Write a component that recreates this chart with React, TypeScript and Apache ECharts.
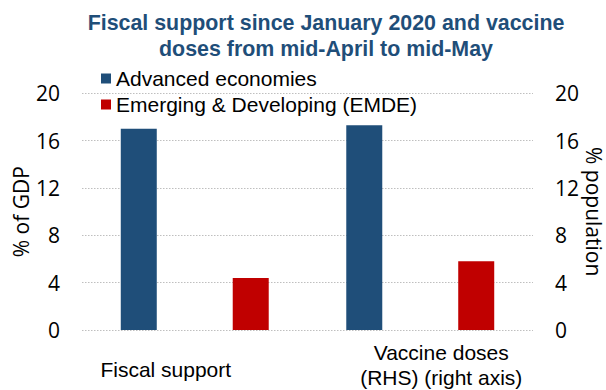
import React, { useEffect, useRef } from "react";
import * as echarts from "echarts";

const categories = ["Fiscal support", "Vaccine doses\n(RHS) (right axis)"];
const advancedValues = [17.0, 17.3];
const emdeValues = [4.4, 5.8];
const seriesNames = ["Advanced economies", "Emerging & Developing (EMDE)"];
const titleText = "Fiscal support since January 2020 and vaccine\ndoses from mid-April to mid-May";
const leftAxisName = "% of GDP";
const rightAxisName = "% population";

export default function App() {
  const ref = useRef<HTMLDivElement>(null);
  useEffect(() => {
    if (!ref.current) return;
    const chart = echarts.init(ref.current, undefined, { renderer: "svg" });
    const tickFont = { fontFamily: "Open Sans", fontSize: 21, color: "#000" };
    chart.setOption({
      animation: false,
      backgroundColor: "#fff",
      title: {
        text: titleText,
        left: 326,
        top: 10,
        padding: 0,
        textAlign: "center",
        textStyle: {
          fontFamily: "Liberation Sans",
          fontWeight: "bold",
          fontSize: 21.4,
          lineHeight: 26,
          color: "#1F4E79",
        },
      },
      legend: {
        orient: "vertical",
        left: 101,
        top: 68,
        padding: 0,
        itemWidth: 10,
        itemHeight: 10,
        itemGap: 5,
        icon: "rect",
        textStyle: { fontFamily: "Liberation Sans", fontSize: 21, lineHeight: 21, color: "#000" },
        data: seriesNames,
      },
      grid: { left: 82, right: 73, top: 93.3, bottom: 60, outerBoundsMode: "none", containLabel: false },
      xAxis: {
        type: "category",
        data: [
          { value: categories[0], textStyle: { padding: [17, 58, 0, 0] } },
          { value: categories[1], textStyle: { padding: [0, 0, 0, 42] } },
        ],
        axisLine: { show: false },
        axisTick: { show: false },
        axisLabel: {
          margin: 10,
          fontFamily: "Liberation Sans",
          fontSize: 21,
          lineHeight: 25,
          color: "#000",
          interval: 0,
        },
      },
      yAxis: [
        {
          type: "value",
          min: 0,
          max: 20,
          interval: 4,
          name: leftAxisName,
          nameLocation: "middle",
          nameRotate: 90,
          nameGap: 51,
          nameMoveOverlap: false,
          nameTextStyle: { ...tickFont, lineHeight: 21 },
          axisLabel: { ...tickFont, margin: 22 },
          axisLine: { show: false },
          axisTick: { show: false },
          splitLine: { lineStyle: { color: "#BFBFBF", width: 1.2, type: [1.5, 1.5] } },
        },
        {
          type: "value",
          min: 0,
          max: 20,
          interval: 4,
          position: "right",
          name: rightAxisName,
          nameLocation: "middle",
          nameRotate: -90,
          nameGap: 50,
          nameMoveOverlap: false,
          nameTextStyle: { ...tickFont, lineHeight: 21 },
          axisLabel: { ...tickFont, margin: 22 },
          axisLine: { show: false },
          axisTick: { show: false },
          splitLine: { show: false },
        },
      ],
      series: [
        {
          name: seriesNames[0],
          type: "bar",
          data: advancedValues,
          barWidth: 36,
          barGap: "211%",
          itemStyle: { color: "#1F4E79" },
        },
        {
          name: seriesNames[1],
          type: "bar",
          data: emdeValues,
          barWidth: 36,
          barGap: "211%",
          itemStyle: { color: "#C00000" },
        },
      ],
    });
    return () => chart.dispose();
  }, []);
  return <div ref={ref} style={{ width: 606, height: 390, position: "absolute", left: 0, top: 0 }} />;
}
